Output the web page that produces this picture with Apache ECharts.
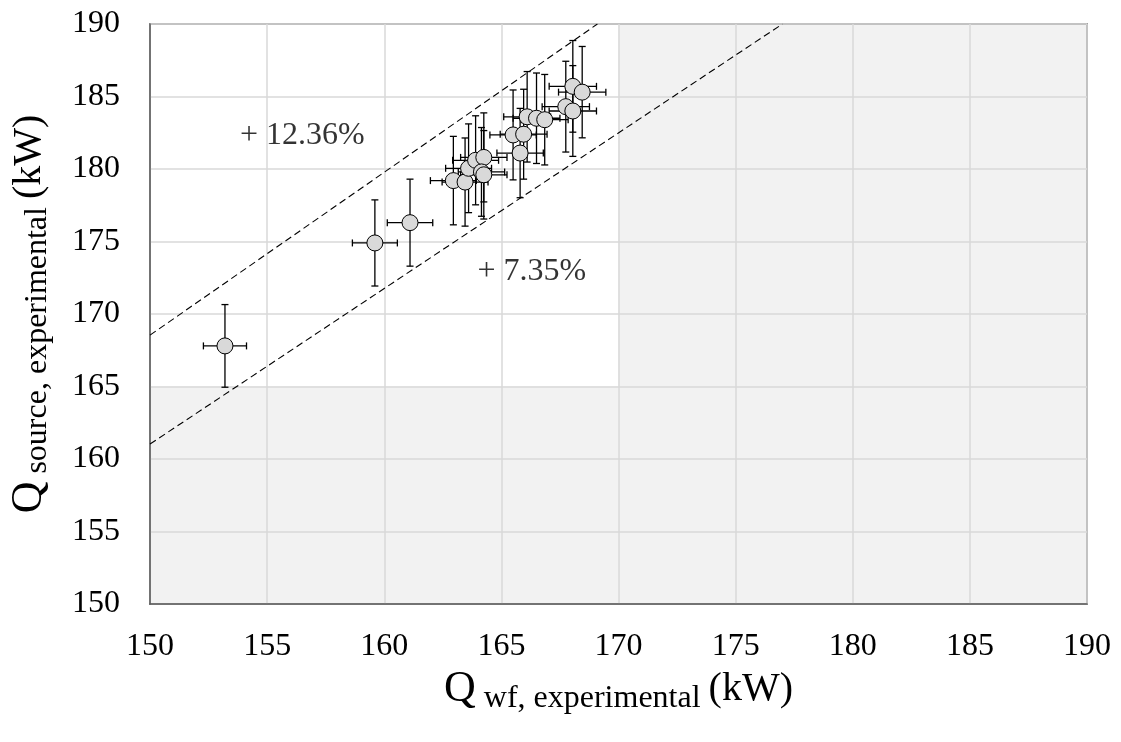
<!DOCTYPE html>
<html>
<head>
<meta charset="utf-8">
<script src="https://cdn.jsdelivr.net/npm/echarts@6/dist/echarts.min.js"></script>
<style>
html,body{margin:0;padding:0;background:#fff;}
#chart{width:1121px;height:742px;}
</style>
</head>
<body>
<div id="chart"></div>
<script>
// ---- data ----
const xTicks = [150, 155, 160, 165, 170, 175, 180, 185, 190];
const yTicks = [150, 155, 160, 165, 170, 175, 180, 185, 190];
const qWf = [153.2, 159.6, 161.1, 162.95, 163.45, 163.6, 163.9, 164.25, 164.15, 164.25, 165.5, 165.95, 165.8, 166.1, 166.5, 166.85, 167.75, 168.05, 168.05, 168.45];
const qSource = [167.8, 174.9, 176.3, 179.2, 179.1, 180.05, 180.6, 180.8, 179.8, 179.6, 182.35, 182.4, 181.1, 183.6, 183.5, 183.4, 184.3, 184.0, 185.7, 185.3];
const qWfErr = [0.92, 0.96, 0.97, 0.98, 0.98, 0.98, 0.98, 0.99, 0.99, 0.99, 0.99, 1.0, 0.99, 1.0, 1.0, 1.0, 1.01, 1.01, 1.01, 1.01];
const qSourceErr = [2.85, 2.97, 3.0, 3.05, 3.04, 3.06, 3.07, 3.07, 3.06, 3.05, 3.1, 3.1, 3.08, 3.12, 3.12, 3.12, 3.13, 3.13, 3.16, 3.15];
const upperLine = [[150, 168.54], [169.1, 190]];   // +12.36 %
const lowerLine = [[150, 161.03], [177.0, 190]];   // +7.35 %
const shadedRegions = [[170, 150, 190, 190], [150, 150, 170, 165]]; // x0,y0,x1,y1
const annotations = [
  {text: '+ 12.36%', x: 156.5, y: 182.3},
  {text: '+ 7.35%', x: 166.3, y: 172.9}
];

const FONT = '"Liberation Serif", "Times New Roman", serif';
const points = qWf.map((x, i) => [x, qSource[i], qWfErr[i], qSourceErr[i]]);

const titleRich = {
  q: {fontFamily: FONT, fontSize: 44, color: '#000'},
  s: {fontFamily: FONT, fontSize: 32, color: '#000', padding: [18, 0, 0, 0]},
  u: {fontFamily: FONT, fontSize: 40, color: '#000'}
};

const chart = echarts.init(document.getElementById('chart'), null, {renderer: 'canvas'});
chart.setOption({
  animation: false,
  backgroundColor: '#fff',
  grid: {left: 150, right: 34, top: 24, bottom: 138, show: true, containLabel: false,
         outerBoundsMode: 'none',
         borderColor: '#595959', borderWidth: 1.5, backgroundColor: 'transparent'},
  xAxis: {
    type: 'value', min: xTicks[0], max: xTicks[xTicks.length - 1], interval: 5,
    axisLine: {show: true, lineStyle: {color: '#595959', width: 1.5}},
    axisTick: {show: false},
    splitLine: {show: true, lineStyle: {color: '#d9d9d9', width: 1.5}},
    axisLabel: {color: '#000', fontFamily: FONT, fontSize: 32, margin: 27},
    name: '{q|Q}{s| wf, experimental }{u|(kW)}',
    nameLocation: 'middle', nameGap: 60,
    nameTextStyle: {color: '#000', fontFamily: FONT, rich: titleRich}
  },
  yAxis: {
    type: 'value', min: yTicks[0], max: yTicks[yTicks.length - 1], interval: 5,
    axisLine: {show: true, lineStyle: {color: '#595959', width: 1.5}},
    axisTick: {show: false},
    splitLine: {show: true, lineStyle: {color: '#d9d9d9', width: 1.5}},
    axisLabel: {color: '#000', fontFamily: FONT, fontSize: 32, margin: 30},
    name: '{q|Q}{s| source, experimental }{u|(kW)}',
    nameLocation: 'middle', nameGap: 96, nameRotate: 90,
    nameTextStyle: {color: '#000', fontFamily: FONT, rich: titleRich}
  },
  series: [
    {
      type: 'custom', z: -1, silent: true,
      data: shadedRegions,
      renderItem: function (params, api) {
        const p0 = api.coord([api.value(0), api.value(3)]);
        const p1 = api.coord([api.value(2), api.value(1)]);
        return {type: 'rect', shape: {x: p0[0], y: p0[1], width: p1[0] - p0[0], height: p1[1] - p0[1]},
                style: {fill: '#f2f2f2'}};
      }
    },
    {
      type: 'line', data: upperLine, symbol: 'none', silent: true,
      lineStyle: {color: '#000', width: 1.1, type: [7, 4]}
    },
    {
      type: 'line', data: lowerLine, symbol: 'none', silent: true,
      lineStyle: {color: '#000', width: 1.1, type: [7, 4]}
    },
    {
      type: 'custom', silent: true,
      data: points,
      renderItem: function (params, api) {
        const x = api.value(0), y = api.value(1), ex = api.value(2), ey = api.value(3);
        const l = api.coord([x - ex, y]), r = api.coord([x + ex, y]);
        const t = api.coord([x, y + ey]), b = api.coord([x, y - ey]);
        const c = 3.5;
        const st = {stroke: '#000', lineWidth: 1.3};
        return {type: 'group', children: [
          {type: 'line', shape: {x1: l[0], y1: l[1], x2: r[0], y2: r[1]}, style: st},
          {type: 'line', shape: {x1: l[0], y1: l[1] - c, x2: l[0], y2: l[1] + c}, style: st},
          {type: 'line', shape: {x1: r[0], y1: r[1] - c, x2: r[0], y2: r[1] + c}, style: st},
          {type: 'line', shape: {x1: t[0], y1: t[1], x2: b[0], y2: b[1]}, style: st},
          {type: 'line', shape: {x1: t[0] - c, y1: t[1], x2: t[0] + c, y2: t[1]}, style: st},
          {type: 'line', shape: {x1: b[0] - c, y1: b[1], x2: b[0] + c, y2: b[1]}, style: st}
        ]};
      }
    },
    {
      type: 'scatter', data: points.map(p => [p[0], p[1]]), symbol: 'circle', symbolSize: 16,
      itemStyle: {color: '#d9d9d9', borderColor: '#000', borderWidth: 1, opacity: 1}
    },
    {
      type: 'scatter', symbolSize: 0, silent: true,
      data: annotations.map(a => ({value: [a.x, a.y], name: a.text})),
      label: {show: true, position: 'inside', formatter: p => p.name,
              color: '#000', fontFamily: FONT, fontSize: 32}
    }
  ]
});
</script>
</body>
</html>
